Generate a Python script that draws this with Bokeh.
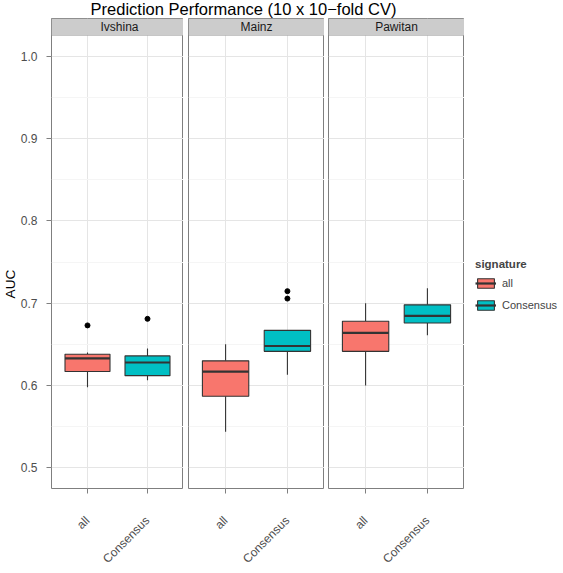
import math
from bokeh.plotting import figure
from bokeh.layouts import column, row
from bokeh.models import (ColumnDataSource, FactorRange, Range1d, FixedTicker, Label, Title,
                          BoxAnnotation, Legend, LegendItem, PrintfTickFormatter)
from bokeh.embed import file_html
from bokeh.resources import INLINE

# ---------------- data ----------------
title_text = "Prediction Performance (10 x 10\u2212fold CV)"
y_label = "AUC"
legend_title = "signature"
datasets = ["Ivshina", "Mainz", "Pawitan"]
signatures = ["all", "Consensus"]
colors = ["#F8766D", "#00BFC4"]
y_ticks = [0.5, 0.6, 0.7, 0.8, 0.9, 1.0]
y_minor = [0.55, 0.65, 0.75, 0.85, 0.95]
y_limits = [0.5, 1.0]

# one value per dataset (Ivshina, Mainz, Pawitan)
whisker_low = {"all": [0.598, 0.544, 0.600], "Consensus": [0.6065, 0.613, 0.661]}
box_q1 = {"all": [0.617, 0.587, 0.6415], "Consensus": [0.612, 0.6415, 0.676]}
box_median = {"all": [0.633, 0.617, 0.664], "Consensus": [0.628, 0.648, 0.6845]}
box_q3 = {"all": [0.638, 0.630, 0.678], "Consensus": [0.636, 0.667, 0.698]}
whisker_high = {"all": [0.640, 0.650, 0.700], "Consensus": [0.645, 0.667, 0.718]}
outlier_dataset = ["Ivshina", "Ivshina", "Mainz", "Mainz"]
outlier_signature = ["all", "Consensus", "Consensus", "Consensus"]
outlier_value = [0.673, 0.681, 0.7146, 0.7056]

# ---------------- layout / style ----------------
FONT = "Liberation Sans"
PAGE_W = 563
TITLE_H = 18
FRAME_W = 136
LEFT = 47
GAPS = [5, 4]
LEGEND_W = 99
ROW_H = 555
FRAME_H = 470
BOTTOM = ROW_H - FRAME_H
STRIP_PX = 17
BOX_W = 0.75
EXPAND = 0.05 * (y_limits[1] - y_limits[0])
Y_LO = y_limits[0] - EXPAND
Y_HI = y_limits[1] + EXPAND
Y_END = Y_HI + STRIP_PX * (Y_HI - Y_LO) / (FRAME_H - STRIP_PX)
DARK = "#333333"
GREY50 = "#7F7F7F"
AXIS_TXT = "#4D4D4D"

y_ticker = FixedTicker(ticks=y_ticks, minor_ticks=y_minor)


def box_source(i):
    return ColumnDataSource(dict(
        sig=signatures,
        low=[whisker_low[s][i] for s in signatures],
        q1=[box_q1[s][i] for s in signatures],
        med=[box_median[s][i] for s in signatures],
        q3=[box_q3[s][i] for s in signatures],
        high=[whisker_high[s][i] for s in signatures],
        left=[(s, -BOX_W / 2) for s in signatures],
        right=[(s, BOX_W / 2) for s in signatures],
        color=colors,
    ))


def draw_boxes(p, src):
    w1 = p.segment(x0="sig", y0="q3", x1="sig", y1="high", source=src, line_color=DARK, line_width=1.1)
    w2 = p.segment(x0="sig", y0="low", x1="sig", y1="q1", source=src, line_color=DARK, line_width=1.1)
    box = p.vbar(x="sig", width=BOX_W, bottom="q1", top="q3", source=src,
                 fill_color="color", line_color=DARK, line_width=1.1)
    med = p.segment(x0="left", y0="med", x1="right", y1="med", source=src,
                    line_color=DARK, line_width=2.2)
    return [w1, w2, box, med]


def make_panel(i, width, min_left):
    p = figure(width=width, height=ROW_H,
               x_range=FactorRange(*signatures, range_padding=0.1, range_padding_units="absolute"),
               y_range=Range1d(Y_LO, Y_END),
               output_backend="svg", toolbar_location=None,
               min_border_left=min_left, min_border_right=0,
               min_border_top=0, min_border_bottom=BOTTOM)
    p.background_fill_color = "white"
    p.border_fill_color = "white"
    p.outline_line_color = GREY50
    p.outline_line_width = 1

    p.xgrid.grid_line_color = "#E5E5E5"
    p.ygrid.ticker = y_ticker
    p.ygrid.grid_line_color = "#E5E5E5"
    p.ygrid.minor_grid_line_color = "#F5F5F5"

    xa = p.xaxis[0]
    xa.axis_line_color = None
    xa.major_tick_line_color = GREY50
    xa.major_tick_out = 5
    xa.major_tick_in = 0
    xa.major_label_orientation = math.pi / 4
    xa.major_label_text_font = FONT
    xa.major_label_text_font_size = "12px"
    xa.major_label_text_color = AXIS_TXT
    xa.major_label_standoff = 25

    ds = datasets[i]
    src = box_source(i)
    draw_boxes(p, src)
    ox = [s for d, s in zip(outlier_dataset, outlier_signature) if d == ds]
    oy = [v for d, v in zip(outlier_dataset, outlier_value) if d == ds]
    if ox:
        p.scatter(x=ox, y=oy, size=5, color="black")

    # facet strip
    p.add_layout(BoxAnnotation(bottom=Y_HI, fill_color="#CCCCCC", fill_alpha=1,
                               line_color=GREY50, line_width=1))
    p.add_layout(Label(x=FRAME_W / 2, y=FRAME_H - STRIP_PX / 2, x_units="screen", y_units="screen",
                       text=ds, text_align="center", text_baseline="middle",
                       text_font=FONT, text_font_size="12px", text_color="#1A1A1A"))
    return p


p1 = make_panel(0, LEFT + FRAME_W, LEFT)
p2 = make_panel(1, GAPS[0] + FRAME_W, GAPS[0])
p3 = make_panel(2, GAPS[1] + FRAME_W, GAPS[1])

# y axis on first panel only
ya = p1.yaxis[0]
ya.ticker = y_ticker
ya.formatter = PrintfTickFormatter(format="%.1f")
ya.axis_line_color = None
ya.major_tick_line_color = GREY50
ya.major_tick_out = 5
ya.major_tick_in = 0
ya.minor_tick_line_color = None
ya.major_label_text_font = FONT
ya.major_label_text_font_size = "12px"
ya.major_label_text_color = AXIS_TXT
ya.major_label_standoff = 9
p1.add_layout(Title(text=y_label, align="left", offset=190, standoff=0,
                    text_font=FONT, text_font_size="13.7px", text_font_style="normal",
                    text_color="black"), "left")
for p in (p2, p3):
    p.yaxis.visible = False

# legend panel
pleg = figure(width=LEGEND_W, height=ROW_H,
              x_range=FactorRange(*signatures), y_range=Range1d(Y_LO, Y_END),
              x_axis_location=None, y_axis_location=None, min_border=0, title=None,
              output_backend="svg", toolbar_location=None)
pleg.outline_line_color = None
pleg.grid.visible = False
leg_r = draw_boxes(pleg, box_source(2))
for r in leg_r:
    r.visible = False
legend = Legend(items=[LegendItem(label=s, renderers=[leg_r[2], leg_r[3]], index=k)
                       for k, s in enumerate(signatures)],
                title=legend_title, title_text_font_style="bold", title_text_font=FONT,
                title_text_font_size="11.5px", title_standoff=2,
                label_text_font=FONT, label_text_font_size="11px", label_standoff=6,
                glyph_width=21, glyph_height=12, label_height=22, spacing=0,
                padding=2, margin=0, border_line_color=None, background_fill_alpha=0,
                location=(11, 172))
pleg.add_layout(legend, "center")

# main title
pt = figure(width=PAGE_W, height=TITLE_H, x_range=Range1d(0, PAGE_W), y_range=Range1d(0, TITLE_H),
            x_axis_location=None, y_axis_location=None, min_border=0, title=None,
            output_backend="svg", toolbar_location=None)
pt.outline_line_color = None
pt.grid.visible = False
pt.add_layout(Label(x=243, y=10, text=title_text,
                    text_align="center", text_baseline="alphabetic",
                    text_font=FONT, text_font_size="16.5px", text_color="black"))

layout = column(pt, row(p1, p2, p3, pleg))
open("out.html", "w").write(file_html(layout, INLINE))
